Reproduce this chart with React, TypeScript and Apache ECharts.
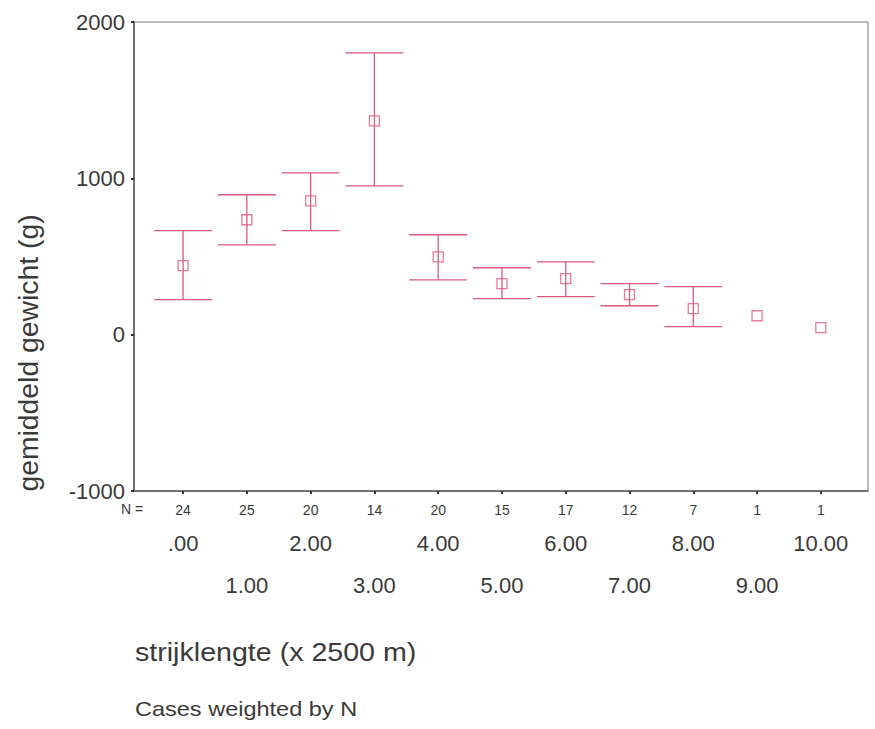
import React, { useEffect, useRef } from "react";
import * as echarts from "echarts";

const categories = [0, 1, 2, 3, 4, 5, 6, 7, 8, 9, 10];
const categoryLabels = [".00", "1.00", "2.00", "3.00", "4.00", "5.00", "6.00", "7.00", "8.00", "9.00", "10.00"];
const nValues = [24, 25, 20, 14, 20, 15, 17, 12, 7, 1, 1];
const means = [441, 735, 856, 1368, 498, 326, 358, 256, 166, 121, 45];
const upper = [665, 895, 1035, 1802, 639, 428, 466, 326, 307, null, null];
const lower = [224, 575, 665, 952, 351, 230, 243, 185, 51, null, null];
const yTicks = [-1000, 0, 1000, 2000];

const PINK = "#dc5a7c";
const AXIS = "#555b57";
const TEXT = "#3a3a3a";
const FONT = "Liberation Sans, Arial, sans-serif";

export default function App() {
  const ref = useRef<HTMLDivElement>(null);
  useEffect(() => {
    document.body.style.margin = "0";
    if (!ref.current) return;
    const chart = echarts.init(ref.current, null, { renderer: "svg" });
    const errData = categories
      .map((c, i) => (upper[i] == null ? null : [c, lower[i], upper[i]]))
      .filter((d) => d !== null);
    const labelFor = (v: number) => categories.indexOf(Math.round(v));
    const baseX = {
      type: "value",
      min: -0.77,
      max: 10.74,
      position: "bottom",
      splitLine: { show: false },
    };
    chart.setOption({
      animation: false,
      backgroundColor: "#ffffff",
      textStyle: { fontFamily: FONT },
      grid: {
        left: 134,
        top: 22,
        right: 7,
        bottom: 238,
        show: true,
        borderColor: "#7a7a7a",
        borderWidth: 1,
        backgroundColor: "transparent",
      },
      xAxis: [
        {
          ...baseX,
          axisLine: { show: true, onZero: false, lineStyle: { color: AXIS, width: 1.5 } },
          axisTick: { show: true, customValues: categories, length: 3, lineStyle: { color: "#333", width: 2 } },
          axisLabel: {
            customValues: categories,
            margin: 12,
            fontSize: 14,
            color: TEXT,
            fontFamily: FONT,
            formatter: (v: number) => {
              const i = labelFor(v);
              return i >= 0 ? String(nValues[i]) : "";
            },
          },
        },
        {
          ...baseX,
          offset: 33,
          axisLine: { show: false, onZero: false },
          axisTick: { show: false },
          axisLabel: {
            customValues: categories.filter((c) => c % 2 === 0),
            margin: 8,
            fontSize: 22,
            color: TEXT,
            fontFamily: FONT,
            formatter: (v: number) => {
              const i = labelFor(v);
              return i >= 0 ? categoryLabels[i] : "";
            },
          },
        },
        {
          ...baseX,
          offset: 75,
          axisLine: { show: false, onZero: false },
          axisTick: { show: false },
          axisLabel: {
            customValues: categories.filter((c) => c % 2 === 1),
            margin: 8,
            fontSize: 22,
            color: TEXT,
            fontFamily: FONT,
            formatter: (v: number) => {
              const i = labelFor(v);
              return i >= 0 ? categoryLabels[i] : "";
            },
          },
        },
      ],
      yAxis: {
        type: "value",
        min: yTicks[0],
        max: yTicks[yTicks.length - 1],
        interval: 1000,
        axisLine: { show: true, onZero: false, lineStyle: { color: AXIS, width: 1.5 } },
        axisTick: { show: true, length: 3, lineStyle: { color: "#333", width: 2 } },
        splitLine: { show: false },
        axisLabel: {
          fontSize: 22,
          color: TEXT,
          margin: 9,
          fontFamily: FONT,
          formatter: (v: number) => String(v),
        },
      },
      graphic: [
        {
          type: "text",
          left: 121,
          top: 502,
          style: { text: "N =", fontSize: 14, fill: TEXT, fontFamily: FONT },
        },
        {
          type: "text",
          x: 29,
          y: 353,
          rotation: Math.PI / 2,
          scaleX: 1.05,
          style: {
            text: "gemiddeld gewicht (g)",
            fontSize: 27,
            fill: TEXT,
            fontFamily: FONT,
            align: "center",
            verticalAlign: "middle",
          },
        },
        {
          type: "text",
          x: 135,
          y: 639,
          scaleX: 1.1,
          style: { text: "strijklengte (x 2500 m)", fontSize: 26, fill: TEXT, fontFamily: FONT },
        },
        {
          type: "text",
          x: 135,
          y: 698,
          scaleX: 1.12,
          style: { text: "Cases weighted by N", fontSize: 21, fill: TEXT, fontFamily: FONT },
        },
      ],
      series: [
        {
          type: "custom",
          xAxisIndex: 0,
          data: errData,
          renderItem: (params: any, api: any) => {
            const x = api.value(0);
            const lo = api.coord([x, api.value(1)]);
            const hi = api.coord([x, api.value(2)]);
            const hw = 29;
            const style = { stroke: PINK, lineWidth: 1.3 };
            return {
              type: "group",
              children: [
                { type: "line", shape: { x1: lo[0], y1: lo[1], x2: hi[0], y2: hi[1] }, style },
                { type: "line", shape: { x1: hi[0] - hw, y1: hi[1], x2: hi[0] + hw, y2: hi[1] }, style },
                { type: "line", shape: { x1: lo[0] - hw, y1: lo[1], x2: lo[0] + hw, y2: lo[1] }, style },
              ],
            };
          },
          z: 2,
        },
        {
          type: "scatter",
          xAxisIndex: 0,
          symbol: "rect",
          symbolSize: 10,
          data: categories.map((c, i) => [c, means[i]]),
          itemStyle: { color: "rgba(0,0,0,0)", borderColor: PINK, borderWidth: 1.3 },
          z: 3,
        },
      ],
    });
    return () => chart.dispose();
  }, []);
  return <div ref={ref} style={{ width: 875, height: 729 }} />;
}
